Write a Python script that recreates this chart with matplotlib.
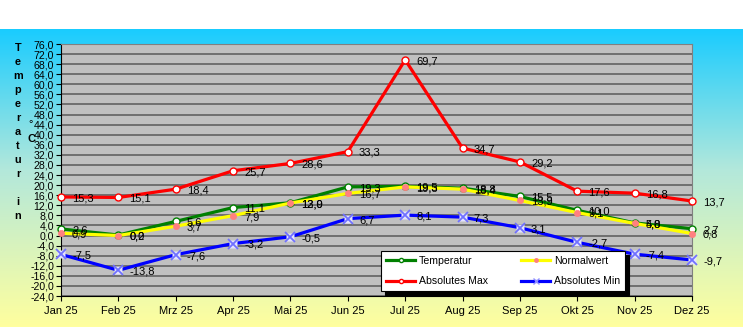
import numpy as np
import matplotlib
matplotlib.use("Agg")
import matplotlib.pyplot as plt
from matplotlib.lines import Line2D
from matplotlib.ticker import FuncFormatter, MultipleLocator
from matplotlib.colors import LinearSegmentedColormap

plt.rcParams['font.family'] = ['Liberation Sans', 'DejaVu Sans']

months = ["Jan 25", "Feb 25", "Mrz 25", "Apr 25", "Mai 25", "Jun 25",
          "Jul 25", "Aug 25", "Sep 25", "Okt 25", "Nov 25", "Dez 25"]
temperatur = [2.6, 0.2, 5.6, 11.1, 13.0, 19.3, 19.5, 18.8, 15.5, 10.0, 5.0, 2.7]
normalwert = [0.9, 0.0, 3.7, 7.9, 12.9, 16.7, 19.3, 18.4, 13.9, 9.1, 4.8, 0.8]
abs_max = [15.3, 15.1, 18.4, 25.7, 28.6, 33.3, 69.7, 34.7, 29.2, 17.6, 16.8, 13.7]
abs_min = [-7.5, -13.8, -7.6, -3.2, -0.5, 6.7, 8.1, 7.3, 3.1, -2.7, -7.4, -9.7]

W, H = 743, 327
fig = plt.figure(figsize=(W / 100, H / 100), dpi=100)
fig.patch.set_facecolor("white")

# vertical background gradient below the white top strip
bg = fig.add_axes([0, 0, 1, (H - 29) / H], zorder=-10)
cmap = LinearSegmentedColormap.from_list(
    "bg", [(0.0, (0.10, 0.80, 1.00)), (0.47, (0.70, 0.91, 0.86)),
           (1.0, (1.00, 1.00, 0.62))])
grad = np.linspace(0, 1, 256).reshape(-1, 1)
bg.imshow(grad, aspect="auto", cmap=cmap, extent=[0, 1, 0, 1], origin="upper")
bg.set_axis_off()

x0, x1, ytop, ybot = 61, 692, 44, 296
ax = fig.add_axes([x0 / W, 1 - ybot / H, (x1 - x0) / W, (ybot - ytop) / H])
ax.set_facecolor("#C0C0C0")
x = np.arange(len(months))
ax.set_xlim(0, len(months) - 1)
ax.set_ylim(-24, 76)
ax.yaxis.set_major_locator(MultipleLocator(4))
ax.yaxis.set_major_formatter(FuncFormatter(lambda v, p: f"{v:.1f}".replace(".", ",")))
ax.grid(axis="y", color="#5a5a5a", lw=1.1)
ax.set_axisbelow(True)
ax.set_xticks(x)
ax.set_xticklabels(months)
ax.tick_params(axis="y", direction="out", length=3.5, width=0.8, labelsize=7.6, pad=1.5)
ax.tick_params(axis="x", direction="out", length=3.5, width=0.8, labelsize=8, pad=4)
for s in ("top", "right"):
    ax.spines[s].set_color("#808080")
for s in ("left", "bottom"):
    ax.spines[s].set_color("black")

lw = 2.3
ax.plot(x, temperatur, color="#008000", lw=lw, marker="o", ms=5,
        mfc="white", mec="#008000", mew=1.0, clip_on=False, zorder=3)
ax.plot(x, normalwert, color="#FFFF00", lw=lw, marker="o", ms=4.5,
        mfc="#FF8080", mec="#FF8080", mew=0.5, clip_on=False, zorder=3)
ax.plot(x, abs_max, color="#FF0000", lw=lw, marker="o", ms=5,
        mfc="white", mec="#FF0000", mew=1.0, clip_on=False, zorder=3)
ax.plot(x, abs_min, color="#0000FF", lw=lw, clip_on=False, zorder=3)
ax.plot(x, abs_min, ls="none", marker="s", ms=6, mfc="#E4E4FF", mec="none",
        clip_on=False, zorder=4)
ax.plot(x, abs_min, ls="none", marker="x", ms=6.5, mec="#7070FF", mew=1.3,
        clip_on=False, zorder=5)

def fmt(v):
    return f"{v:.1f}".replace(".", ",")

for series in (temperatur, normalwert, abs_max, abs_min):
    for xi, v in zip(x, series):
        ax.annotate(fmt(v), (xi, v), xytext=(8, -1), textcoords="offset points",
                    ha="left", va="center", fontsize=8, color="black",
                    annotation_clip=False, zorder=6)

# stacked axis title
title = "Temperatur in"
yy = 48
for ch in title:
    if ch != " ":
        fig.text(18 / W, 1 - yy / H, ch, ha="center", va="center",
                 fontsize=7.8, fontweight="bold")
    yy += 14
fig.text(31 / W, 1 - 124 / H, "°", ha="center", va="center", fontsize=8)
fig.text(31 / W, 1 - 139 / H, "C", ha="center", va="center", fontsize=8, fontweight="bold")

handles = [
    Line2D([], [], color="#008000", lw=lw, marker="o", ms=3, mfc="white", mec="#008000"),
    Line2D([], [], color="#FF0000", lw=lw, marker="o", ms=3, mfc="white", mec="#FF0000"),
    Line2D([], [], color="#FFFF00", lw=lw, marker="o", ms=2.5, mfc="#FF8080", mec="#FF8080"),
    Line2D([], [], color="#0000FF", lw=lw, marker="x", ms=4, mec="#9090FF", mew=1),
]
labels = ["Temperatur", "Absolutes Max", "Normalwert", "Absolutes Min"]
leg = fig.legend(handles, labels, ncol=2, loc="upper left",
                 bbox_to_anchor=(381 / W, 1 - 251 / H), borderaxespad=0,
                 fontsize=7.6, frameon=True, fancybox=False, edgecolor="black",
                 framealpha=1, handlelength=2.8, handletextpad=0.35,
                 columnspacing=3.1, labelspacing=1.0, borderpad=0.45,
                 shadow={"color": "black", "alpha": 1, "ox": 3, "oy": -3})
leg.get_frame().set_linewidth(0.8)

fig.savefig("out.png", dpi=100)
